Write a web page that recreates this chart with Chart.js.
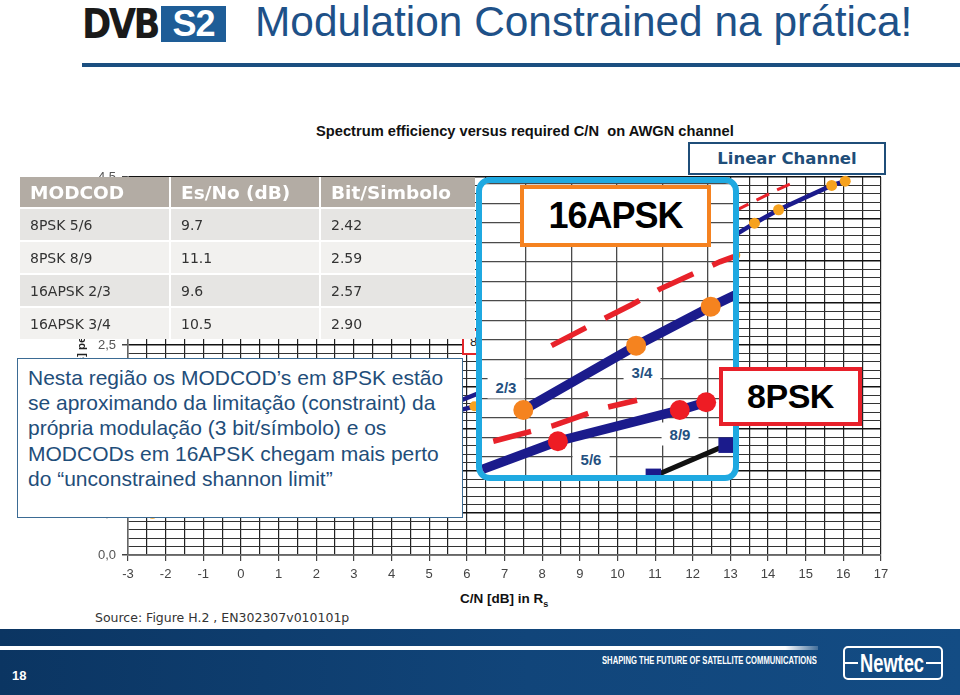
<!DOCTYPE html>
<html lang="pt">
<head>
<meta charset="utf-8">
<title>Modulation Constrained na prática!</title>
<script src="https://cdn.jsdelivr.net/npm/chart.js@4.4.1/dist/chart.umd.min.js"></script>
<style>
  html, body { margin: 0; padding: 0; }
  body { width: 960px; height: 695px; position: relative; overflow: hidden; background: #fff;
         font-family: "Liberation Sans", Arial, sans-serif; }
  .abs { position: absolute; }
  #logo-dvb { left: 82px; top: 4px; font: bold 40px/40px "DejaVu Sans", sans-serif; letter-spacing: -3px;
              color: #1a1a1a; transform-origin: 0 0; }
  #logo-s2 { left: 161px; top: 6px; width: 65px; height: 36px; background: #1e5d97; color: #fff;
             font: bold 36px/36px "Liberation Sans", sans-serif; text-align: center; letter-spacing: -1px; }
  #title { left: 255px; top: 1px; font-size: 42px; line-height: 42px; color: #1e5188; white-space: nowrap;
           transform-origin: 0 0; }
  #rule { left: 82px; top: 63px; width: 878px; height: 4px; background: #1b4f80; }
  #chart-title { left: 316px; top: 123px; font-weight: bold; font-size: 14.5px; white-space: pre; color: #111;
                 transform-origin: 0 0; }
  #main { left: 0; top: 120px; width: 960px; height: 500px; z-index: 1; }
  #xtitle { left: 460px; top: 591px; font-weight: bold; font-size: 13.5px; color: #111; white-space: nowrap; }
  #xtitle sub { font-size: 9px; }
  #source { left: 95px; top: 610px; font: 12.5px "DejaVu Sans", Verdana, sans-serif; color: #333; white-space: nowrap; }
  #tag8 { left: 462px; top: 329px; width: 50px; height: 26px; box-sizing: border-box; border: 2px solid #e3262b;
          background: #fff; font-size: 13px; line-height: 22px; padding-left: 6px; color: #222; z-index: 2; }
  #tbl { left: 20px; top: 177px; width: 455px; border-collapse: collapse; table-layout: fixed; z-index: 3;
         font-family: "DejaVu Sans", Verdana, sans-serif; }
  #tbl th { background: #b3aca4; color: #fff; font-weight: bold; font-size: 18.5px; text-align: left;
            height: 30px; padding: 0 0 0 10px; white-space: nowrap; overflow: hidden; }
  #tbl td { font-size: 14px; color: #333; height: 31px; padding: 0 0 0 10px; border-top: 2px solid #fff; }
  #tbl th + th, #tbl td + td { border-left: 2px solid #fff; }
  #tbl tbody tr:nth-child(odd) td { background: #e6e5e3; }
  #tbl tbody tr:nth-child(even) td { background: #f2f1ef; }
  #note { left: 17px; top: 358px; width: 446px; height: 160px; box-sizing: border-box; border: 1px solid #3b6b94;
          background: #fff; padding: 6px 0 0 10px; font-size: 21px; line-height: 25.2px; color: #1f4e7a;
          white-space: nowrap; z-index: 3; }
  #inset { left: 476px; top: 177px; width: 263px; height: 304px; box-sizing: border-box; border: 6px solid #1fa9e1;
           border-radius: 14px; background: #fff; overflow: hidden; z-index: 4; }
  #inset canvas { display: block; }
  .lbl { position: absolute; background: #fff; font-weight: bold; font-size: 15px; color: #24507f;
         padding: 3px 8px; transform: translate(-50%, -50%); z-index: 5; white-space: nowrap; }
  .modbox { position: absolute; box-sizing: border-box; background: #fff; font-weight: bold; color: #000;
            text-align: center; z-index: 6; }
  #box16 { left: 520px; top: 185px; width: 191px; height: 62px; border: 4px solid #f58220;
           font-size: 36px; line-height: 54px; letter-spacing: -1px; }
  #box8 { left: 719px; top: 367px; width: 143px; height: 59px; border: 4px solid #e8202a;
          font-size: 34px; line-height: 51px; letter-spacing: -0.5px; }
  #linear { left: 688px; top: 142px; width: 198px; height: 33px; box-sizing: border-box; border: 2px solid #1f4e79;
            background: #fff; color: #1f4e79; font: bold 16.5px/29px "DejaVu Sans", Verdana, sans-serif;
            text-align: center; z-index: 6; }
  #footer { left: 0; top: 629px; width: 960px; height: 66px;
            background: linear-gradient(90deg, #0b3562 0%, #11457a 55%, #134c84 100%); }
  #footer-line { left: 0; top: 646px; width: 818px; height: 4px;
                 background: linear-gradient(90deg, #fff 0%, #fff 96%, rgba(255,255,255,0.2) 100%); }
  #pageno { left: 12px; top: 668px; color: #fff; font-weight: bold; font-size: 13px; }
  #tagline { left: 602px; top: 654px; color: #fff; font-weight: bold; font-size: 11px; white-space: nowrap;
             transform-origin: 0 0; }
  #newtec { left: 843px; top: 646px; width: 100px; height: 34px; box-sizing: border-box; border: 2px solid #fff;
            border-radius: 5px; }
  .nbar { position: absolute; top: 662px; height: 2px; background: #fff; }
  #newtecTxt { left: 860px; top: 648px; color: #fff; font-weight: bold; font-size: 26px; line-height: 30px;
               white-space: nowrap; transform-origin: 0 0; }
</style>
</head>
<body>
<div id="logo-dvb" class="abs">DVB</div>
<div id="logo-s2" class="abs">S2</div>
<div id="title" class="abs">Modulation Constrained na prática!</div>
<div id="rule" class="abs"></div>
<div id="chart-title" class="abs">Spectrum efficiency versus required C/N  on AWGN channel</div>

<div id="main" class="abs"><canvas id="mainChart" width="960" height="500"></canvas></div>
<div id="xtitle" class="abs">C/N [dB] in R<sub>s</sub></div>
<div id="source" class="abs">Source: Figure H.2 , EN302307v010101p</div>
<div id="tag8" class="abs">8PSK</div>

<table id="tbl" class="abs">
  <colgroup><col style="width:150px"><col style="width:150px"><col style="width:155px"></colgroup>
  <thead><tr id="tblHead"></tr></thead>
  <tbody id="tblBody"></tbody>
</table>

<div id="note" class="abs">Nesta região os MODCOD’s em 8PSK estão<br>se aproximando da limitação (constraint) da<br>própria modulação (3 bit/símbolo) e os<br>MODCODs em 16APSK chegam mais perto<br>do “unconstrained shannon limit”</div>

<div id="inset" class="abs"><canvas id="insetChart" width="251" height="292"></canvas></div>
<div class="lbl" style="left:506px; top:387px;">2/3</div>
<div class="lbl" style="left:642px; top:372px;">3/4</div>
<div class="lbl" style="left:591px; top:459px;">5/6</div>
<div class="lbl" style="left:680px; top:434px;">8/9</div>
<div id="box16" class="modbox">16APSK</div>
<div id="box8" class="modbox">8PSK</div>
<div id="linear" class="abs">Linear Channel</div>

<div id="footer" class="abs"></div>
<div id="footer-line" class="abs"></div>
<div id="pageno" class="abs">18</div>
<div id="tagline" class="abs">SHAPING THE FUTURE OF SATELLITE COMMUNICATIONS</div>
<div id="newtec" class="abs"></div>
<div class="nbar" style="left:845px; width:13px;"></div>
<div class="nbar" style="left:926px; width:15px;"></div>
<div id="newtecTxt" class="abs">Newtec</div>

<script>
// MODCOD operating points: C/N [dB] and bit/symbol
const qpskX = [-2.35, -1.24, -0.30, 1.00, 2.23, 3.10, 4.03, 4.68, 5.18, 6.20, 6.42];
const qpskY = [0.49, 0.66, 0.79, 0.99, 1.19, 1.32, 1.49, 1.59, 1.65, 1.77, 1.79];
const psk8X = [5.50, 6.62, 7.91, 9.35, 10.69, 10.98];
const psk8Y = [1.78, 1.98, 2.23, 2.48, 2.64, 2.68];
const apsk16X = [8.97, 10.21, 11.03, 11.61, 12.89, 13.13];
const apsk16Y = [2.64, 2.97, 3.17, 3.30, 3.52, 3.57];
const apsk32X = [12.73, 13.64, 14.28, 15.69, 16.05];
const apsk32Y = [3.70, 3.95, 4.11, 4.40, 4.45];

// modulation constrained limits (red dashed)
const limit8X = [8.64, 9.30, 9.85, 10.22];
const limit8Y = [2.48, 2.56, 2.65, 2.69];
const limit16X = [9.28, 9.65, 10.16, 10.47, 11.13, 11.60];
const limit16Y = [2.97, 3.06, 3.18, 3.26, 3.40, 3.48];
const limit32X = [12.60, 13.23, 14.21, 14.60];
const limit32Y = [3.98, 4.12, 4.34, 4.42];

// DVB-DSNG reference points
const dsngX = [10.40, 11.20];
const dsngY = [2.30, 2.46];

const xLabels = [-3, -2, -1, 0, 1, 2, 3, 4, 5, 6, 7, 8, 9, 10, 11, 12, 13, 14, 15, 16, 17];
const yLabels = ['0,0', '0,5', '1,0', '1,5', '2,0', '2,5', '3,0', '3,5', '4,0', '4,5'];

const tableHead = ['MODCOD', 'Es/No (dB)', 'Bit/Simbolo'];
const modcodNames = ['8PSK 5/6', '8PSK 8/9', '16APSK 2/3', '16APSK 3/4'];
const modcodEsNo = ['9.7', '11.1', '9.6', '10.5'];
const modcodBits = ['2.42', '2.59', '2.57', '2.90'];

// table
document.getElementById('tblHead').innerHTML = tableHead.map(h => `<th>${h}</th>`).join('');
document.getElementById('tblBody').innerHTML = modcodNames.map((n, i) =>
  `<tr><td>${n}</td><td>${modcodEsNo[i]}</td><td>${modcodBits[i]}</td></tr>`).join('');

function fitWidth(id, w) {
  const el = document.getElementById(id);
  el.style.transform = `scaleX(${w / el.scrollWidth})`;
}
fitWidth('title', 657);
fitWidth('chart-title', 418);
fitWidth('tagline', 215);
fitWidth('newtecTxt', 64);
fitWidth('logo-dvb', 76);

const navy = '#1b1b8c';
const red = '#e8222a';
const orange = '#f6a21e';
const orangeBig = '#f5831f';
const font = '"Liberation Sans", Arial, sans-serif';

const series = (xs, ys) => xs.map((x, i) => ({x: x, y: ys[i]}));

const isHalf = v => Math.abs(v * 2 - Math.round(v * 2)) < 1e-6;

// main chart
new Chart(document.getElementById('mainChart'), {
  type: 'scatter',
  data: {
    datasets: [
      {data: series(limit8X, limit8Y), showLine: true, borderColor: red, borderWidth: 3, borderDash: [14, 9], pointRadius: 0},
      {data: series(limit16X, limit16Y), showLine: true, borderColor: red, borderWidth: 3, borderDash: [14, 9], pointRadius: 0},
      {data: series(limit32X, limit32Y), showLine: true, borderColor: red, borderWidth: 3, borderDash: [14, 9], pointRadius: 0},
      {data: series(dsngX, dsngY), showLine: true, borderColor: '#111', borderWidth: 2.5, pointStyle: 'rect',
       pointRadius: 5.5, pointBackgroundColor: navy, pointBorderWidth: 0},
      {data: series(qpskX, qpskY), showLine: true, borderColor: navy, borderWidth: 4.5, pointRadius: 5,
       pointBackgroundColor: orange, pointBorderWidth: 0},
      {data: series(psk8X, psk8Y), showLine: true, borderColor: navy, borderWidth: 4.5, pointRadius: 5,
       pointBackgroundColor: red, pointBorderWidth: 0},
      {data: series(apsk16X, apsk16Y), showLine: true, borderColor: navy, borderWidth: 4.5, pointRadius: 5,
       pointBackgroundColor: orange, pointBorderWidth: 0},
      {data: series(apsk32X, apsk32Y), showLine: true, borderColor: navy, borderWidth: 4.5, pointRadius: 5.5,
       pointBackgroundColor: orange, pointBorderWidth: 0, clip: false}
    ]
  },
  options: {
    responsive: false,
    animation: false,
    events: [],
    layout: {autoPadding: false, padding: {left: 78, right: 79, top: 57, bottom: 35}},
    plugins: {legend: {display: false}, tooltip: {enabled: false}},
    scales: {
      x: {
        type: 'linear', min: -3, max: 17,
        afterFit: s => { s.height = 30; },
        ticks: {
          stepSize: 0.5, autoSkip: false, maxRotation: 0, padding: 6, color: '#444',
          font: {family: font, size: 13},
          callback: v => xLabels.includes(v) ? String(v) : ''
        },
        grid: {
          color: '#222', lineWidth: 1.2, tickLength: 6,
          tickColor: ctx => (ctx.tick && xLabels.includes(ctx.tick.value)) ? '#444' : 'rgba(0,0,0,0)'
        },
        border: {color: '#666', width: 1.5}
      },
      y: {
        min: 0, max: 4.5,
        afterFit: s => { s.width = 50; },
        title: {display: true, text: 'Spectrum efficiency [bit/s] per unit Symbol Rate', color: '#222',
                font: {family: font, size: 11.5, weight: 'bold'}, padding: {top: -3, bottom: 0}},
        ticks: {
          stepSize: 0.1, autoSkip: false, padding: 6, color: '#555',
          font: {family: font, size: 13},
          callback: v => isHalf(v) ? yLabels[Math.round(v * 2)] : ''
        },
        grid: {
          color: ctx => (ctx.tick && isHalf(ctx.tick.value)) ? '#111' : '#333',
          lineWidth: ctx => (ctx.tick && isHalf(ctx.tick.value)) ? 1.5 : 1,
          tickLength: 6,
          tickColor: ctx => (ctx.tick && isHalf(ctx.tick.value)) ? '#444' : 'rgba(0,0,0,0)'
        },
        border: {color: '#666', width: 1.5}
      }
    }
  }
});

// magnified inset (same data, zoomed scales)
new Chart(document.getElementById('insetChart'), {
  type: 'scatter',
  data: {
    datasets: [
      {data: series(limit8X, limit8Y), showLine: true, borderColor: red, borderWidth: 5.5, borderDash: [39, 21], pointRadius: 0},
      {data: series(limit16X, limit16Y), showLine: true, borderColor: red, borderWidth: 5.5, borderDash: [39, 21], pointRadius: 0},
      {data: series(dsngX, dsngY), showLine: true, borderColor: '#111', borderWidth: 5, pointStyle: 'rect',
       pointRadius: 11, pointBackgroundColor: navy, pointBorderWidth: 0},
      {data: series(psk8X, psk8Y), showLine: true, borderColor: navy, borderWidth: 9.5, pointRadius: 10,
       pointBackgroundColor: '#ee1c24', pointBorderWidth: 0},
      {data: series(apsk16X, apsk16Y), showLine: true, borderColor: navy, borderWidth: 9.5, pointRadius: 10,
       pointBackgroundColor: orangeBig, pointBorderWidth: 0}
    ]
  },
  options: {
    responsive: false,
    animation: false,
    events: [],
    layout: {autoPadding: false, padding: 0},
    plugins: {legend: {display: false}, tooltip: {enabled: false}},
    scales: {
      x: {
        type: 'linear', min: 8.516, max: 11.275,
        afterFit: s => { s.height = 0; },
        ticks: {display: false, stepSize: 0.5, includeBounds: false},
        grid: {drawTicks: false, color: '#4a4a4a', lineWidth: 1.3},
        border: {display: false}
      },
      y: {
        min: 2.307, max: 3.804,
        afterFit: s => { s.width = 0; },
        ticks: {display: false, stepSize: 0.1, includeBounds: false},
        grid: {drawTicks: false, color: '#4a4a4a', lineWidth: 1.3},
        border: {display: false}
      }
    }
  }
});
</script>
</body>
</html>
